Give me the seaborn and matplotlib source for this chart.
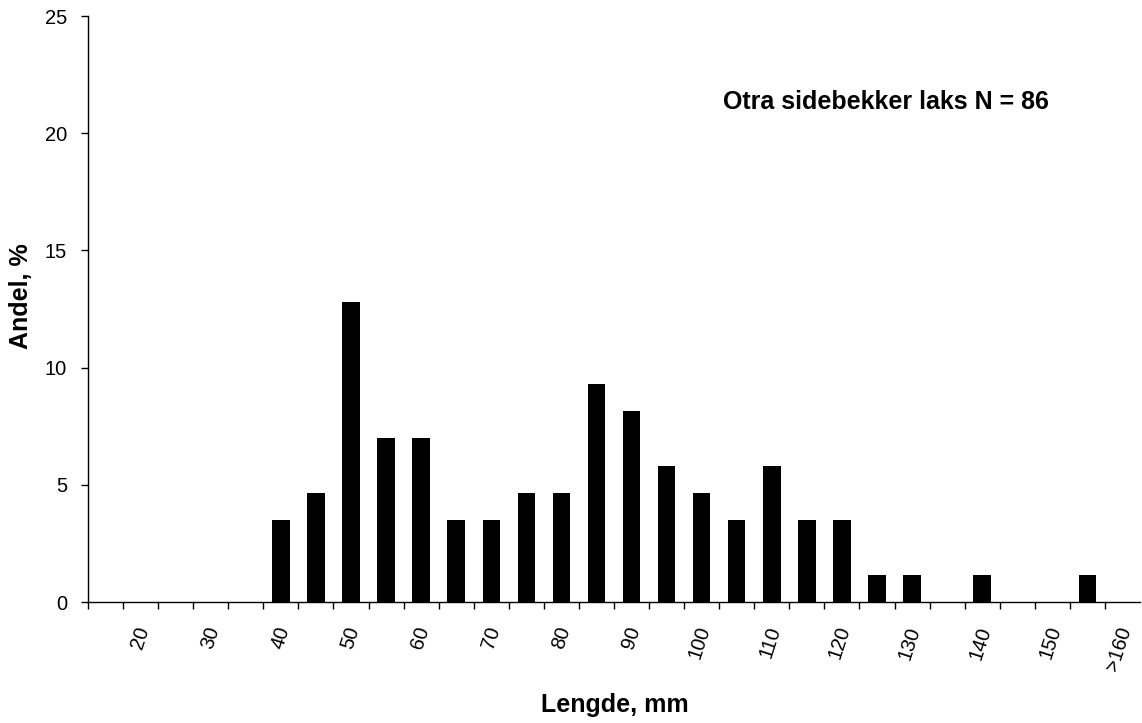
import matplotlib
matplotlib.use("Agg")
import matplotlib.pyplot as plt
import matplotlib.transforms as mtransforms
import seaborn as sns
import numpy as np
import pandas as pd

# Length classes (mm) and share of fish (%)
categories = ["15", "20", "25", "30", "35", "40", "45", "50", "55", "60",
              "65", "70", "75", "80", "85", "90", "95", "100", "105", "110",
              "115", "120", "125", "130", "135", "140", "145", "150", "155", ">160"]
shares = [0, 0, 0, 0, 0, 3.49, 4.65, 12.79, 6.98, 6.98,
          3.49, 3.49, 4.65, 4.65, 9.30, 8.14, 5.81, 4.65, 3.49, 5.81,
          3.49, 3.49, 1.16, 1.16, 0, 1.16, 0, 0, 1.16, 0]
shown_labels = ["20", "30", "40", "50", "60", "70", "80", "90", "100",
                "110", "120", "130", "140", "150", ">160"]
y_ticks = [0, 5, 10, 15, 20, 25]

sns.set_style("ticks")
plt.rcParams["font.family"] = ["Liberation Sans", "DejaVu Sans"]
plt.rcParams["text.color"] = "black"
plt.rcParams["xtick.color"] = "black"
plt.rcParams["ytick.color"] = "black"

fig = plt.figure(figsize=(11.42, 7.23), dpi=100)
ax = fig.add_axes([88 / 1142, 1 - 602 / 723, (1140 - 88) / 1142, (602 - 16) / 723])

df = pd.DataFrame({"cat": categories, "share": shares})
sns.barplot(data=df, x="cat", y="share", order=categories, color="black",
            saturation=1, width=0.5, ax=ax, linewidth=0)

ax.set_xlim(-0.5, len(categories) - 0.5)
ax.set_ylim(0, 25)
ax.set_yticks(y_ticks)
ax.set_yticklabels([str(v) for v in y_ticks], fontsize=14.5)
ax.tick_params(axis="y", direction="out", length=5, width=1, color="black",
               labelcolor="black", pad=10)

# x: category boundary ticks (minor), labels at category centres (major)
ax.set_xticks(np.arange(-0.5, len(categories) - 1, 1.0), minor=True)
label_pos = [categories.index(l) for l in shown_labels]
ax.set_xticks(label_pos)
ax.set_xticklabels(shown_labels, rotation=72, ha="right", va="center",
                   rotation_mode="anchor", fontsize=14.5)
ax.tick_params(axis="x", which="major", length=0, pad=18, labelcolor="black")
ax.tick_params(axis="x", which="minor", direction="out", length=5, width=1, color="black")
shift = mtransforms.ScaledTranslation(3 / 100, 0, fig.dpi_scale_trans)
for lbl in ax.get_xticklabels():
    lbl.set_transform(lbl.get_transform() + shift)

for s in ["top", "right"]:
    ax.spines[s].set_visible(False)
for s in ["left", "bottom"]:
    ax.spines[s].set_color("black")
    ax.spines[s].set_linewidth(1)

ax.set_xlabel("")
ax.set_ylabel("")
fig.text(615 / 1142, 1 - 705 / 723, "Lengde, mm", fontsize=18, fontweight="bold",
         ha="center", va="center", color="black")
fig.text(21 / 1142, 1 - 296 / 723, "Andel, %", fontsize=18, fontweight="bold",
         ha="center", va="center", rotation=90, color="black")
fig.text(723 / 1142, 1 - 102 / 723, "Otra sidebekker laks N = 86", fontsize=18,
         fontweight="bold", ha="left", va="center", color="black")

fig.savefig("out.png", dpi=100, facecolor="white")
